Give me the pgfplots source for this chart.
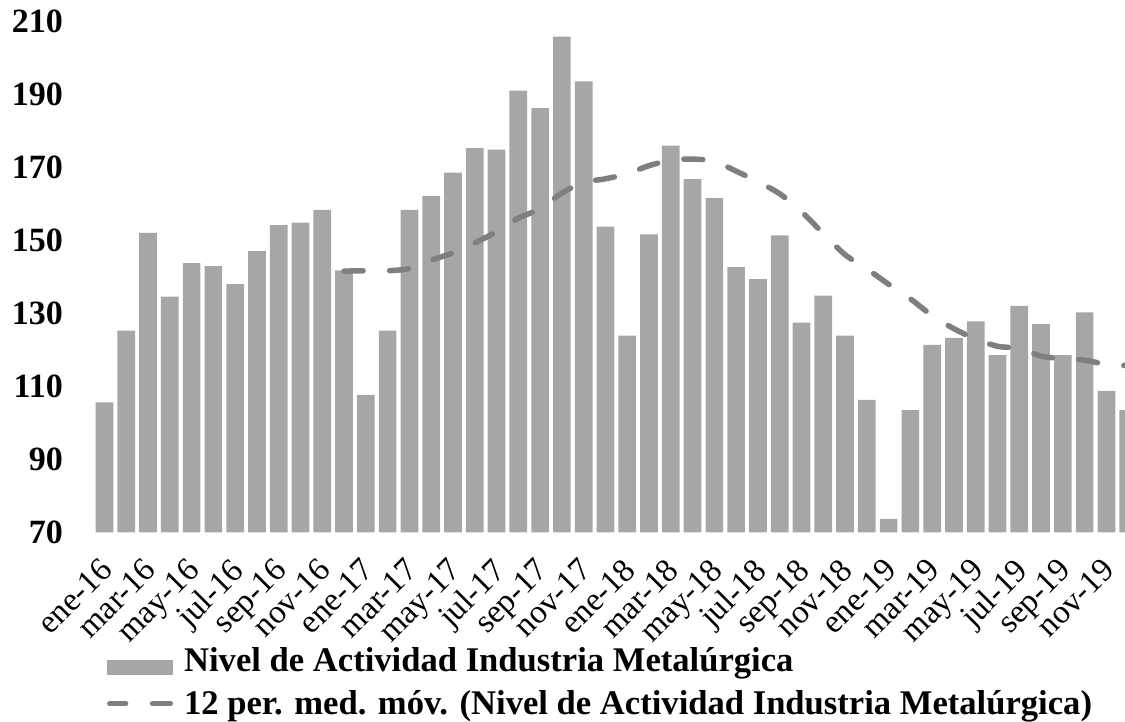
\documentclass[border=0pt]{standalone}
\usepackage{fontspec}
\setmainfont{Liberation Serif}
\usepackage{pgfplots}
\usepackage{pgfplotstable}
\pgfplotsset{compat=1.18}
\definecolor{barcol}{HTML}{A6A6A6}
\definecolor{linecol}{HTML}{7F7F7F}

\pgfplotstableread{
x y
0 105.6
1 125.3
2 152.1
3 134.6
4 143.8
5 143.0
6 138.0
7 147.1
8 154.2
9 154.9
10 158.4
11 141.8
12 107.7
13 125.3
14 158.4
15 162.2
16 168.6
17 175.3
18 174.9
19 191.1
20 186.3
21 205.9
22 193.6
23 153.8
24 123.9
25 151.7
26 176.0
27 166.8
28 161.6
29 142.7
30 139.4
31 151.4
32 127.5
33 134.9
34 123.9
35 106.3
36 73.7
37 103.5
38 121.4
39 123.3
40 127.8
41 118.6
42 132.1
43 127.1
44 118.6
45 130.3
46 108.8
47 103.5
}\bars

\pgfplotstableread{
x y
11 141.6
12 141.7
13 141.7
14 142.3
15 144.6
16 146.6
17 149.3
18 152.4
19 156.1
20 158.7
21 163.0
22 165.9
23 166.9
24 168.3
25 170.5
26 172.0
27 172.3
28 171.7
29 169.0
30 166.1
31 162.8
32 157.9
33 151.9
34 146.1
35 142.2
36 138.0
37 134.0
38 129.4
39 125.8
40 123.0
41 121.0
42 120.4
43 118.3
44 117.6
45 117.2
46 116.0
47 115.7
}\mavg

\begin{document}
\begin{tikzpicture}
\useasboundingbox (-46.8pt,-94.85pt) rectangle (515.7pt,266.15pt);
\begin{axis}[
  at={(0pt,0pt)}, anchor=south west,
  scale only axis, width=515.7pt, height=255.35pt,
  xmin=-0.5, xmax=46.853, ymin=70, ymax=210,
  ytick={70,90,...,210},
  xtick={0,2,...,46},
  xticklabels={ene-16,mar-16,may-16,jul-16,sep-16,nov-16,
               ene-17,mar-17,may-17,jul-17,sep-17,nov-17,
               ene-18,mar-18,may-18,jul-18,sep-18,nov-18,
               ene-19,mar-19,may-19,jul-19,sep-19,nov-19},
  axis line style={draw=none},
  major tick length=0pt,
  /pgf/number format/assume math mode=true,
  yticklabel style={font=\bfseries\fontsize{17}{17}\selectfont, anchor=east, inner sep=0pt, xshift=-15.2pt},
  xticklabel style={xshift=-3pt, yshift=-12pt, font=\fontsize{16.5}{16.5}\selectfont, rotate=45, anchor=north east, inner sep=0pt},
  legend style={at={(0,0)}, anchor=north west, xshift=6.7pt, yshift=-57.5pt,
    draw=none, fill=none, inner sep=0pt, outer sep=0pt, row sep=5.5pt,
    font=\bfseries\fontsize{17.3}{17.3}\selectfont,
    nodes={inner sep=0pt, text height=12pt, text depth=4pt},
    /tikz/every odd column/.style={column sep=5.5pt}},
  legend cell align=left,
]
\addplot[ybar, bar width=8.85pt, fill=barcol, draw=none,
  legend image code/.code={\fill[barcol] (0pt,-6pt) rectangle (33pt,1.5pt);}] table {\bars};
\addlegendentry{Nivel de Actividad Industria Metalúrgica}
\addplot[smooth, color=linecol, line width=2.75pt, line cap=round, dash pattern=on 9.5pt off 13.25pt,
  legend image code/.code={\draw[linecol, line width=2.75pt, line cap=round] (1.4pt,1.3pt) -- (9.3pt,1.3pt) (22.8pt,1.3pt) -- (31.7pt,1.3pt);}] table {\mavg};
\addlegendentry{12 per. med. móv. (Nivel de Actividad Industria Metalúrgica)}
\end{axis}
\end{tikzpicture}
\end{document}
